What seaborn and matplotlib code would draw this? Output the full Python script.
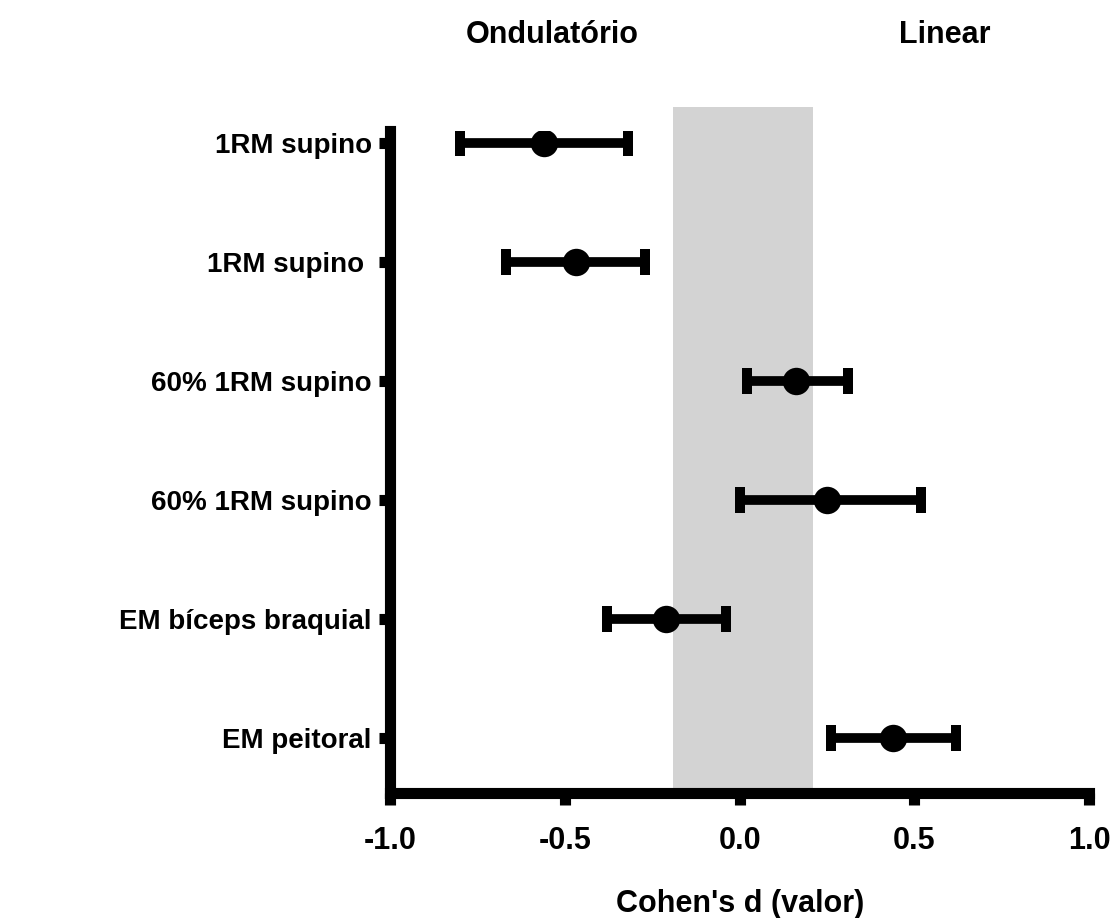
import matplotlib
matplotlib.use("Agg")
import matplotlib.pyplot as plt
import matplotlib.transforms as mtransforms
import numpy as np
import pandas as pd
import seaborn as sns

# ---- data ----
outcomes = ["1RM supino", "1RM supino ", "60% 1RM supino", "60% 1RM supino",
            "EM bíceps braquial", "EM peitoral"]
cohen_d = [-0.56, -0.47, 0.16, 0.25, -0.21, 0.44]
ci_low = [-0.80, -0.67, 0.02, 0.00, -0.38, 0.26]
ci_high = [-0.32, -0.27, 0.31, 0.52, -0.04, 0.62]
trivial_band = [-0.19, 0.21]
x_ticks = [-1.0, -0.5, 0.0, 0.5, 1.0]
x_tick_labels = ["-1.0", "-0.5", "0.0", "0.5", "1.0"]
side_titles = ["Ondulatório", "Linear"]
x_label = "Cohen's d (valor)"

sns.set_theme(style="ticks")
plt.rcParams['font.family'] = ['Liberation Sans', 'DejaVu Sans']
plt.rcParams['font.weight'] = 'bold'

df = pd.DataFrame({
    "pos": np.arange(len(outcomes)),
    "d": cohen_d,
    "lo": ci_low,
    "hi": ci_high,
})

fig = plt.figure(figsize=(11.16, 9.18), dpi=100)
fig.patch.set_facecolor("white")
ax = fig.add_axes([0.3499, 0.1362, 0.6259, 0.7211])
ax.set_facecolor("white")

# shaded trivial-effect band (extends slightly above the plot)
ax.axvspan(trivial_band[0], trivial_band[1], ymin=0, ymax=1.036,
           color="#d3d3d3", lw=0, zorder=0, clip_on=False)

# error bars
ax.errorbar(df["d"], df["pos"],
            xerr=[df["d"] - df["lo"], df["hi"] - df["d"]],
            fmt="none", ecolor="black", elinewidth=7, capsize=9.5,
            capthick=7.2, zorder=2)

# point estimates
sns.scatterplot(data=df, x="d", y="pos", ax=ax, s=390, color="black",
                linewidth=0, zorder=3, legend=False)

ax.set_xlim(-1.0, 1.0)
ax.set_ylim(5.466, -0.097)

ax.set_xticks(x_ticks)
ax.set_xticklabels(x_tick_labels, fontsize=22, fontweight="bold")
ax.set_yticks(df["pos"])
ax.set_yticklabels(outcomes, fontsize=20, fontweight="bold")

for side in ["top", "right"]:
    ax.spines[side].set_visible(False)
for side in ["left", "bottom"]:
    ax.spines[side].set_linewidth(8)
    ax.spines[side].set_color("black")

ax.tick_params(axis="x", direction="out", length=8.5, width=8, pad=15,
               colors="black", labelcolor="black")
ax.tick_params(axis="y", direction="out", length=8, width=8, pad=5.5,
               colors="black", labelcolor="black")

ax.set_xlabel(x_label, fontsize=22, fontweight="bold", labelpad=24,
              color="black")
ax.set_ylabel("")

# side headings
trans = mtransforms.blended_transform_factory(ax.transData, fig.transFigure)
ax.text(-0.538, 1 - 43 / 918, side_titles[0], transform=trans, ha="center",
        va="baseline", fontsize=22, fontweight="bold", color="black")
ax.text(0.587, 1 - 43 / 918, side_titles[1], transform=trans, ha="center",
        va="baseline", fontsize=22, fontweight="bold", color="black")

fig.savefig("out.png", dpi=100, facecolor="white")
